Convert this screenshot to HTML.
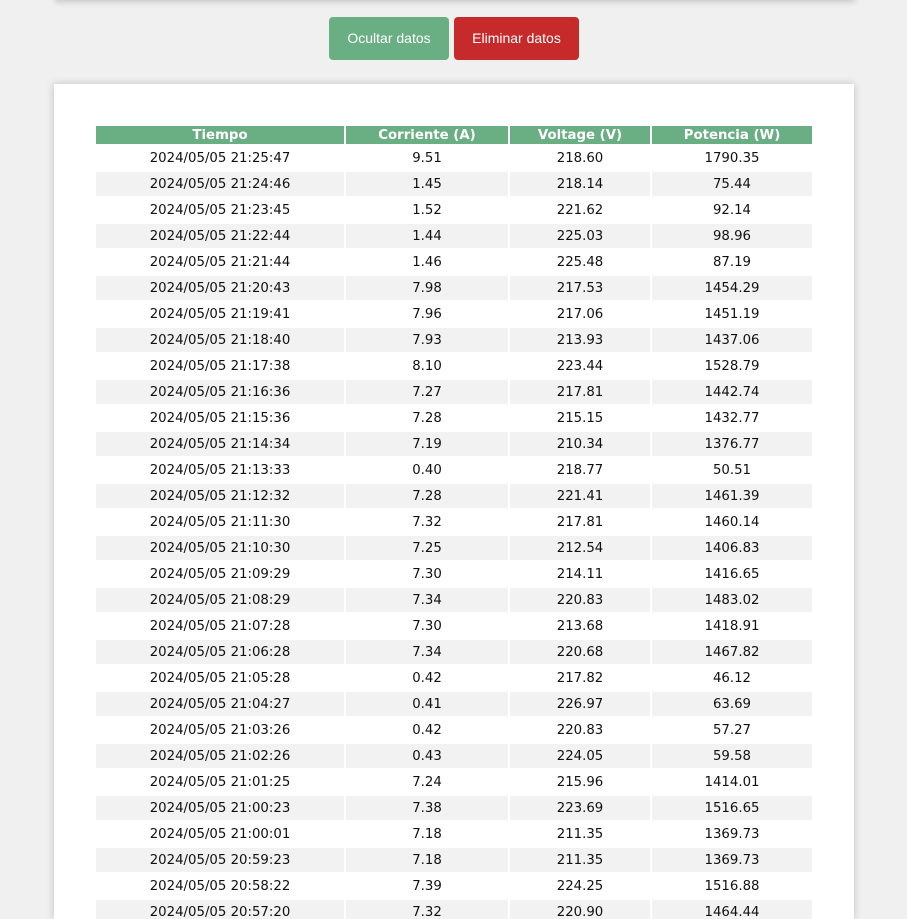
<!DOCTYPE html>
<html><head><meta charset="utf-8"><style>
html,body{margin:0;padding:0;width:907px;height:919px;overflow:hidden;background:#f0f0f0;}
.topcard{position:absolute;left:55px;top:-20px;width:800px;height:20px;background:#f0f0f0;box-shadow:0 2px 6px rgba(0,0,0,0.18);}
.btn{position:absolute;top:17px;height:43px;border-radius:4px;color:#fff;font:14px "Liberation Sans",sans-serif;line-height:43px;text-align:center;}
.card{position:absolute;left:54px;top:84px;width:800px;height:835px;overflow:hidden;background:#fff;box-shadow:0 0 8px rgba(0,0,0,0.2);}
table{position:absolute;left:40px;top:40px;border-spacing:2px;font:13.3px "DejaVu Sans",sans-serif;color:#111;}
th{background:#6aaf84;color:#fff;font-weight:bold;height:16px;padding:2px 0 0 0;font-size:13.3px;line-height:16px;}
td{height:22px;padding:2px 0 0 0;text-align:center;line-height:22px;}
tr:nth-child(even) td{background:#f2f2f2;}
</style></head><body>
<div class="topcard"></div>
<div class="btn" style="left:329px;width:120px;background:#6aaf84">Ocultar datos</div>
<div class="btn" style="left:454px;width:125px;background:#c62a2b">Eliminar datos</div>
<div class="card">
<table>
<thead><tr>
<th style="width:248px">Tiempo</th>
<th style="width:162px">Corriente (A)</th>
<th style="width:140px">Voltage (V)</th>
<th style="width:160px">Potencia (W)</th>
</tr></thead>
<tbody id="tb"></tbody>
</table>
</div>
<script>
const times=["21:25:47","21:24:46","21:23:45","21:22:44","21:21:44","21:20:43","21:19:41","21:18:40","21:17:38","21:16:36","21:15:36","21:14:34","21:13:33","21:12:32","21:11:30","21:10:30","21:09:29","21:08:29","21:07:28","21:06:28","21:05:28","21:04:27","21:03:26","21:02:26","21:01:25","21:00:23","21:00:01","20:59:23","20:58:22","20:57:20"];
const current=["9.51","1.45","1.52","1.44","1.46","7.98","7.96","7.93","8.10","7.27","7.28","7.19","0.40","7.28","7.32","7.25","7.30","7.34","7.30","7.34","0.42","0.41","0.42","0.43","7.24","7.38","7.18","7.18","7.39","7.32"];
const voltage=["218.60","218.14","221.62","225.03","225.48","217.53","217.06","213.93","223.44","217.81","215.15","210.34","218.77","221.41","217.81","212.54","214.11","220.83","213.68","220.68","217.82","226.97","220.83","224.05","215.96","223.69","211.35","211.35","224.25","220.90"];
const power=["1790.35","75.44","92.14","98.96","87.19","1454.29","1451.19","1437.06","1528.79","1442.74","1432.77","1376.77","50.51","1461.39","1460.14","1406.83","1416.65","1483.02","1418.91","1467.82","46.12","63.69","57.27","59.58","1414.01","1516.65","1369.73","1369.73","1516.88","1464.44"];
const tb=document.getElementById('tb');
for(let i=0;i<times.length;i++){
  const tr=document.createElement('tr');
  
  
  const vals=["2024/05/05 "+times[i],current[i],voltage[i],power[i]];
  const names=['time-cell','current-cell','voltage-cell','power-cell'];
  for(let j=0;j<4;j++){
    const td=document.createElement('td');
    
    
    td.textContent=vals[j];
    tr.appendChild(td);
  }
  tb.appendChild(tr);
}
</script>
</body></html>
